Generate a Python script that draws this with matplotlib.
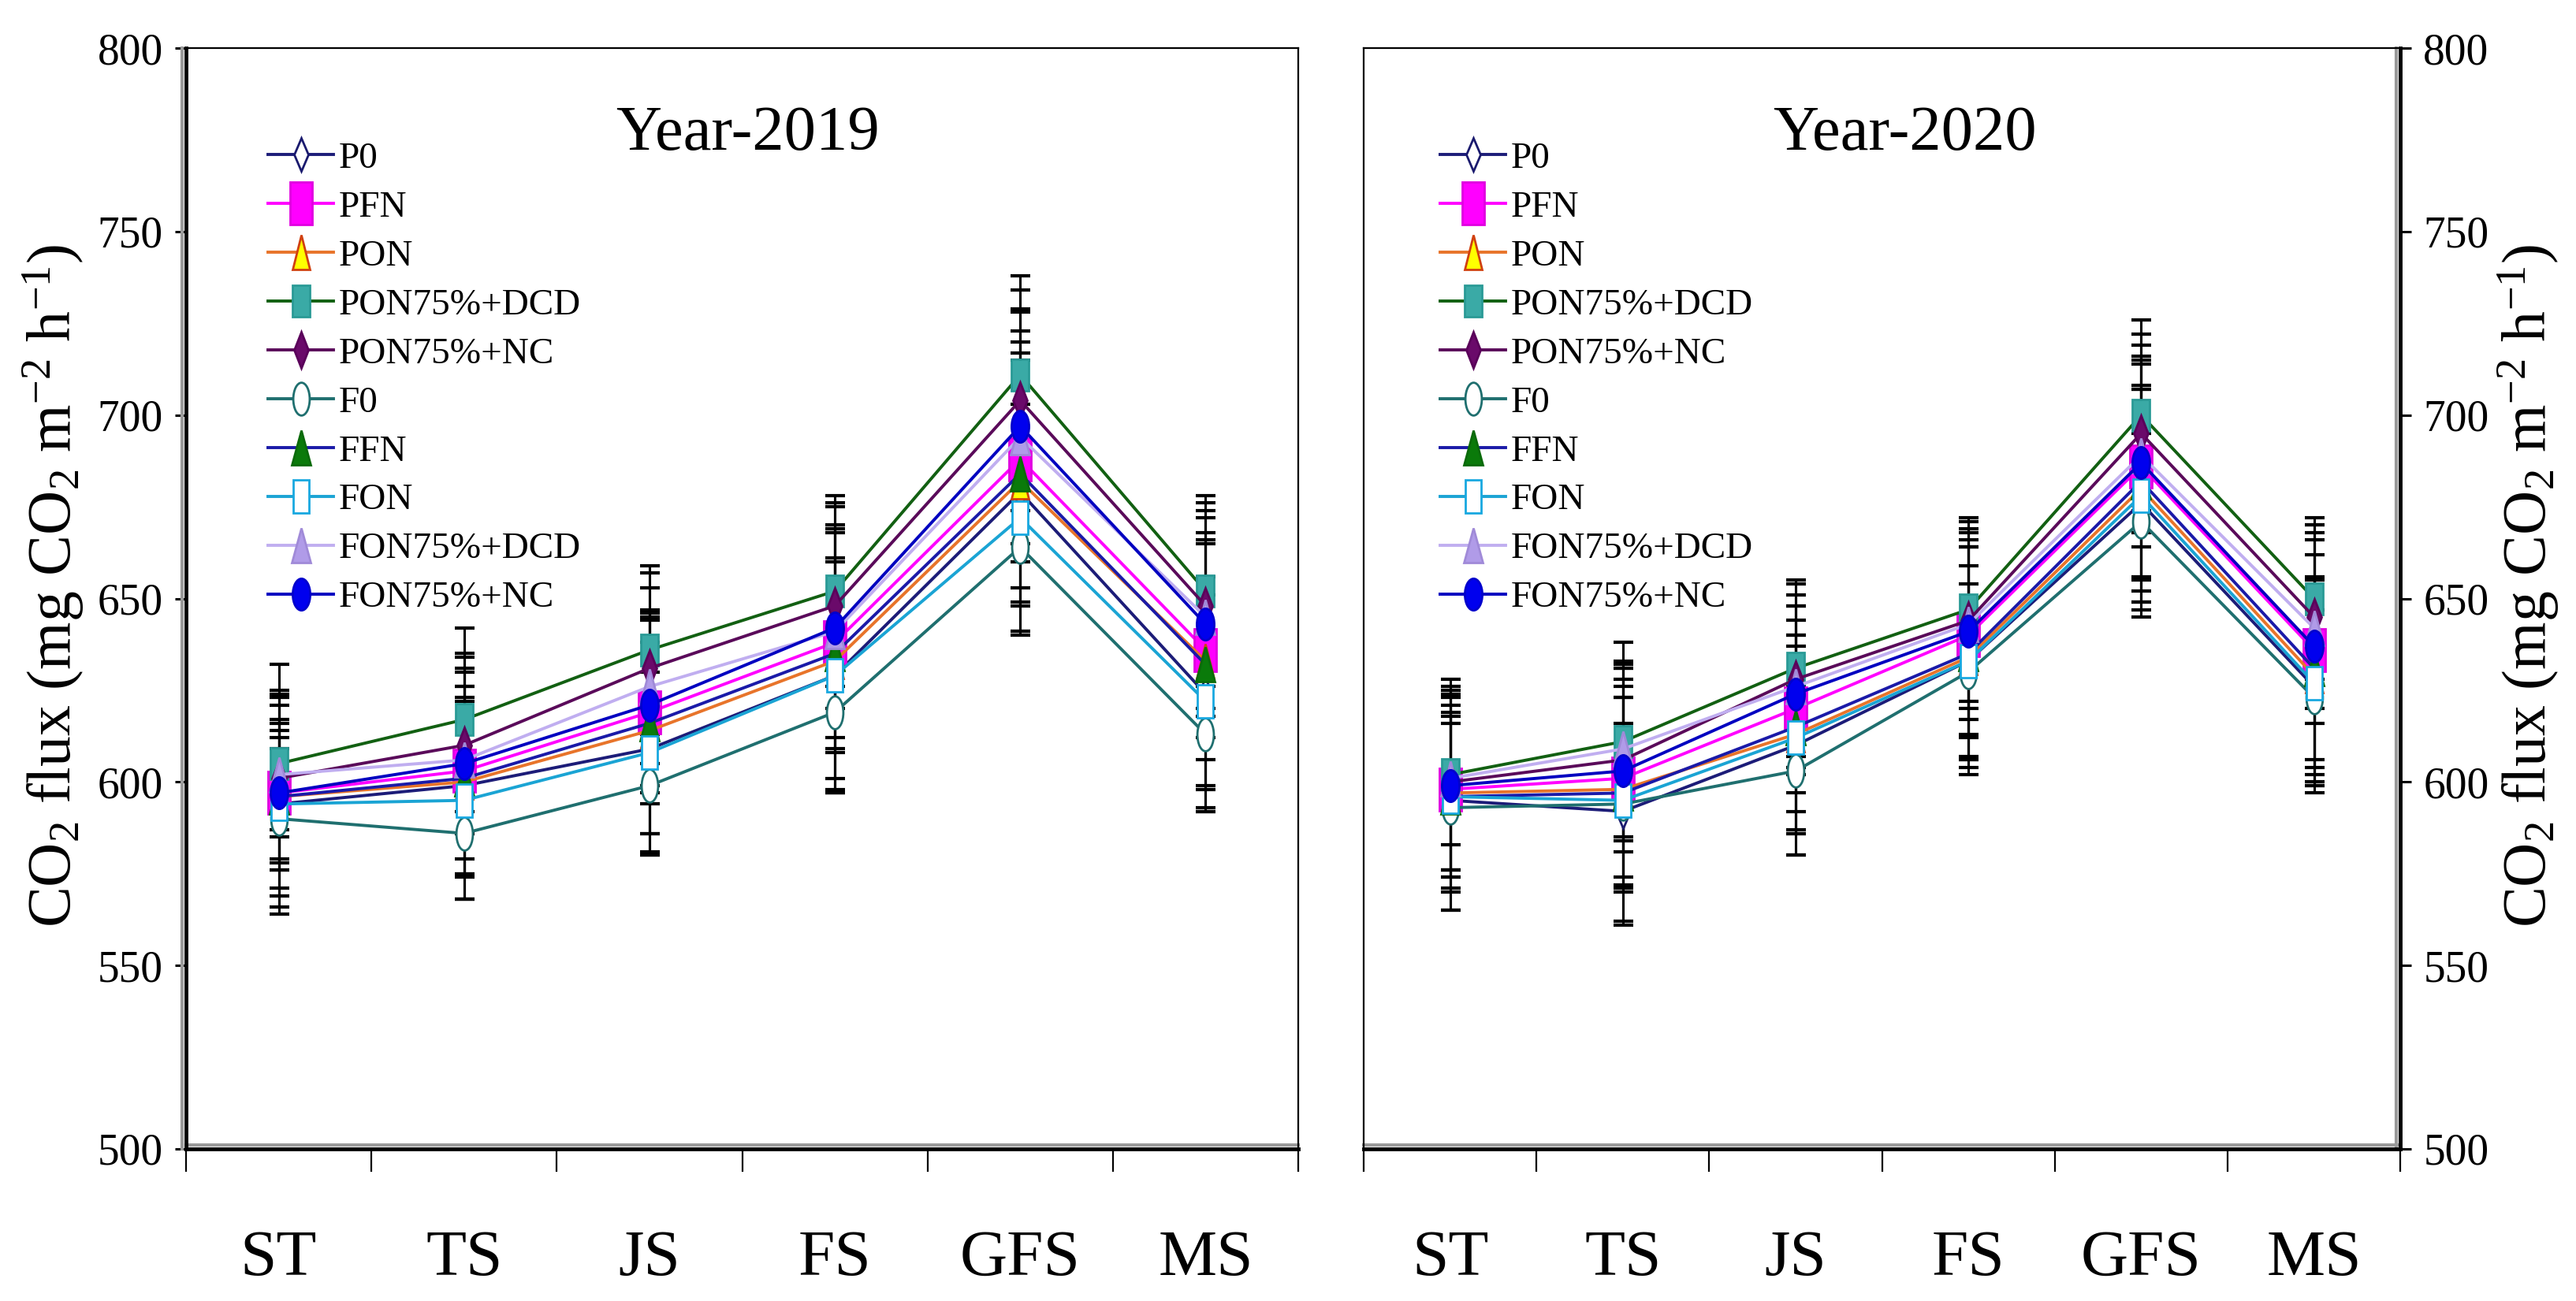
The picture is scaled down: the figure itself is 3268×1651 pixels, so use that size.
import numpy as np
import matplotlib
matplotlib.use('Agg')
import matplotlib.pyplot as plt
from matplotlib.markers import MarkerStyle
from matplotlib.transforms import Affine2D, offset_copy
from matplotlib.lines import Line2D

plt.rcParams['font.family'] = ['Liberation Serif', 'DejaVu Serif']
plt.rcParams['mathtext.fontset'] = 'custom'
plt.rcParams['mathtext.rm'] = 'Liberation Serif'
plt.rcParams['mathtext.it'] = 'Liberation Serif:italic'

# growth stages and treatments
stages = ['ST', 'TS', 'JS', 'FS', 'GFS', 'MS']
treatments = ['P0', 'PFN', 'PON', 'PON75%+DCD', 'PON75%+NC',
              'F0', 'FFN', 'FON', 'FON75%+DCD', 'FON75%+NC']

# CO2 flux, one row per treatment (same order as above)
flux_2019 = [
    [594, 599, 609, 629, 679, 624],
    [597, 603, 619, 638, 688, 636],
    [596, 600, 614, 633, 682, 633],
    [605, 617, 636, 652, 711, 652],
    [601, 610, 631, 648, 704, 648],
    [590, 586, 599, 619, 664, 613],
    [596, 601, 616, 635, 684, 632],
    [594, 595, 608, 629, 672, 622],
    [602, 606, 626, 641, 694, 645],
    [597, 605, 621, 642, 697, 643],
]
err_2019 = [
    [30, 31, 29, 32, 38, 32],
    [28, 28, 25, 30, 35, 30],
    [25, 26, 33, 36, 33, 35],
    [27, 25, 23, 26, 27, 26],
    [22, 24, 26, 28, 30, 28],
    [24, 18, 19, 22, 24, 21],
    [20, 22, 30, 34, 36, 33],
    [18, 27, 22, 31, 31, 29],
    [15, 20, 27, 29, 34, 27],
    [12, 30, 24, 33, 32, 31],
]

flux_2020 = [
    [595, 592, 610, 633, 676, 626],
    [598, 601, 620, 640, 686, 636],
    [597, 598, 613, 634, 680, 629],
    [602, 611, 631, 647, 700, 650],
    [600, 606, 628, 644, 695, 645],
    [593, 594, 603, 630, 671, 623],
    [596, 597, 615, 635, 682, 631],
    [596, 595, 612, 633, 678, 627],
    [601, 609, 626, 643, 689, 642],
    [599, 603, 624, 641, 687, 637],
]
err_2020 = [
    [30, 31, 30, 31, 31, 29],
    [28, 30, 28, 28, 30, 30],
    [26, 28, 27, 30, 28, 27],
    [26, 27, 24, 25, 26, 22],
    [24, 25, 26, 27, 27, 25],
    [28, 22, 23, 24, 24, 24],
    [22, 26, 29, 29, 33, 31],
    [20, 33, 25, 26, 29, 28],
    [18, 24, 22, 23, 25, 26],
    [25, 29, 27, 28, 32, 33],
]

yticks = [500, 550, 600, 650, 700, 750, 800]

# styles
line_colors = ['#1c1c78', '#ff00ff', '#e8742a', '#126012', '#5a0a5a',
               '#1f6f6f', '#1a1aa8', '#1aa4d4', '#c0aef0', '#0000c0']
face_colors = ['white', '#ff00ff', '#ffff00', '#3aaaa6', '#6a0a6a',
               'white', '#0a7a0a', 'white', '#b09be8', '#0000ee']
edge_colors = ['#1a1a6e', '#e000e0', '#d04010', '#2a9a96', '#5a005a',
               '#1f6f6f', '#0a6a0a', '#18a8e0', '#a08ad8', '#0000cc']
marker_kinds = ['D', 's', '^', 's', 'D', 'o', '^', 's', '^', 'o']
marker_sizes = [21, 39, 31, 29, 23, 30, 32, 30, 32, 29]
squash = [0.42, 0.5, 0.52, 0.57, 0.42, 0.5, 0.52, 0.5, 0.52, 0.55]

fig = plt.figure(figsize=(32.68, 16.51), dpi=100)
ax1 = fig.add_axes([0.0722, 0.1169, 0.4318, 0.8461])
ax2 = fig.add_axes([0.5294, 0.1169, 0.4024, 0.8461])


def draw_panel(ax, flux, err, title, title_x, side):
    x = np.arange(len(stages)) + 0.5
    for i in range(len(treatments)):
        ax.errorbar(x, flux[i], yerr=err[i], fmt='none', ecolor='black',
                    elinewidth=2.2, capsize=9, capthick=3, zorder=2)
    for i, name in enumerate(treatments):
        m = MarkerStyle(marker_kinds[i], transform=Affine2D().scale(squash[i], 1.0))
        ax.plot(x, flux[i], color=line_colors[i], lw=2.8, marker=m,
                ms=marker_sizes[i], mfc=face_colors[i], mec=edge_colors[i],
                mew=2, label=name, zorder=3 + i)

    ax.set_xlim(0, 6)
    ax.set_ylim(500, 800)
    ax.set_xticks(range(7))
    ax.set_xticklabels([])
    ax.set_xticks(x, minor=True)
    ax.set_xticklabels(stages, minor=True)
    ax.tick_params(axis='x', which='major', direction='out', length=21, width=1.6)
    ax.tick_params(axis='x', which='minor', length=0, pad=74, labelsize=60)
    ax.set_yticks(yticks)
    ax.tick_params(axis='y', direction='out', length=10, width=2.2, labelsize=40, pad=11)
    if side == 'right':
        ax.yaxis.tick_right()

    for s in ax.spines.values():
        s.set_linewidth(1.6)
    ax.spines['bottom'].set_linewidth(3.5)
    ax.spines[side].set_linewidth(3.5)

    # grey shadow next to the thick spines
    ax.add_line(Line2D([0, 1], [0, 0], color='#9a9a9a', lw=3, clip_on=False,
                       transform=offset_copy(ax.transAxes, fig=fig, y=5, units='dots')))
    sx = 0 if side == 'left' else 1
    ax.add_line(Line2D([sx, sx], [0, 1], color='#9a9a9a', lw=3, clip_on=False,
                       transform=offset_copy(ax.transAxes, fig=fig, x=-5, units='dots')))

    ax.text(title_x, 0.922, title, transform=ax.transAxes, ha='center',
            va='center', fontsize=58)
    ax.legend(loc='upper left', bbox_to_anchor=(0.074, 0.915), frameon=False,
              fontsize=34, handlelength=1.75, handletextpad=0.15,
              labelspacing=0.4, borderaxespad=0, borderpad=0)


draw_panel(ax1, flux_2019, err_2019, 'Year-2019', 0.505, 'left')
draw_panel(ax2, flux_2020, err_2020, 'Year-2020', 0.522, 'right')

ylabel = 'CO$_2$ flux (mg CO$_2$ m$^{-2}$ h$^{-1}$)'
fig.text(68 / 3268, 0.55, ylabel, rotation=90, ha='center', va='center', fontsize=56)
fig.text(3208 / 3268, 0.55, ylabel, rotation=90, ha='center', va='center', fontsize=56)

fig.savefig('out.png', dpi=100, facecolor='white')
